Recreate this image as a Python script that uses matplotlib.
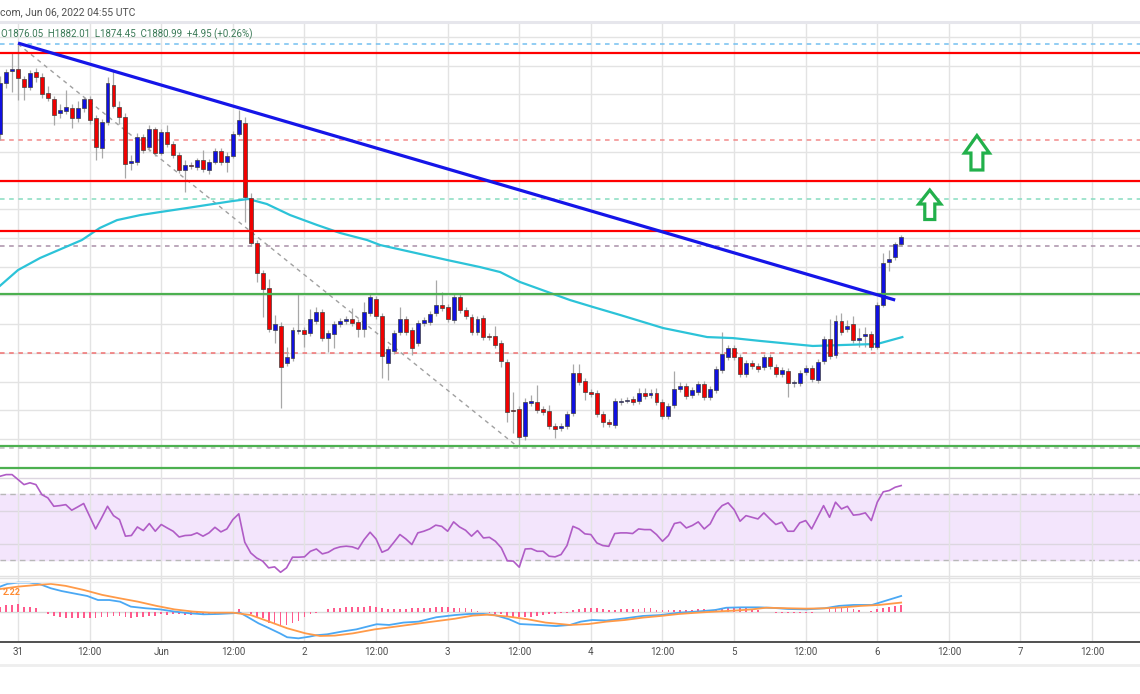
"""ETH/USD 1h chart recreation: candles + trend line + RSI + MACD (TradingView style)."""

import matplotlib

matplotlib.use("Agg")
import matplotlib.pyplot as plt
import numpy as np
from matplotlib.lines import Line2D
from matplotlib.patches import Polygon

plt.rcParams["font.family"] = ["Roboto", "DejaVu Sans"]

W, H = 1140, 694

# ---------------------------------------------------------------------------
# data (hourly candles, first candle = May 30 21:00, x in hours from May 31 00:00)
# ---------------------------------------------------------------------------
opens = [
    1952.4, 1988.0, 1996.3, 1997.7, 1990.8, 1985.2, 1995.6, 1992.2, 1981.0, 1976.8,
    1967.1, 1968.5, 1970.6, 1963.6, 1970.6, 1976.8, 1963.6, 1942.7, 1960.8, 1986.6,
    1971.3, 1964.3, 1932.2, 1932.9, 1950.4, 1943.4, 1955.9, 1939.2, 1953.8, 1945.5,
    1937.8, 1927.4, 1930.9, 1929.5, 1934.3, 1927.4, 1932.9, 1940.6, 1932.9, 1937.1,
    1952.4, 1960.1, 1907.9, 1876.5, 1855.6, 1845.2, 1815.9, 1818.7, 1792.9, 1796.4,
    1815.2, 1815.9, 1813.8, 1822.2, 1828.5, 1810.3, 1813.1, 1820.1, 1822.2, 1823.6,
    1821.5, 1816.6, 1827.8, 1837.5, 1825.7, 1792.9, 1801.3, 1814.5, 1823.6, 1815.9,
    1806.9, 1820.8, 1821.5, 1827.8, 1833.3, 1831.9, 1822.9, 1838.9, 1829.8, 1825.0,
    1814.5, 1824.3, 1811.7, 1811.7, 1806.9, 1793.6, 1759.5, 1760.9, 1742.1, 1765.1,
    1765.8, 1760.9, 1759.5, 1749.0, 1747.6, 1749.0, 1758.1, 1786.0, 1780.4, 1772.7,
    1772.0, 1757.4, 1751.8, 1749.7, 1765.8, 1766.4, 1767.8, 1766.5, 1772.0, 1770.6,
    1772.0, 1765.8, 1756.0, 1763.7, 1774.8, 1776.9, 1770.6, 1772.7, 1778.3, 1769.2,
    1774.1, 1788.0, 1797.1, 1803.4, 1797.1, 1785.3, 1792.9, 1790.8, 1790.1, 1797.1,
    1790.1, 1785.3, 1787.4, 1779.0, 1779.0, 1786.7, 1789.4, 1781.1, 1794.3, 1809.6,
    1798.5, 1822.2, 1816.6, 1820.1, 1808.9, 1811.7, 1813.1, 1804.1, 1833.3, 1863.3,
    1866.8, 1876.05,
]
highs = [
    1992.9, 1997.7, 2008.9, 2015.2, 1992.9, 1997.0, 1998.4, 1994.9, 1985.9, 1978.9,
    1973.4, 1983.1, 1973.4, 1975.4, 1978.2, 1978.9, 1965.7, 1962.9, 1992.2, 1997.0,
    1975.4, 1967.1, 1937.8, 1953.1, 1952.4, 1958.7, 1957.3, 1955.9, 1958.7, 1947.6,
    1939.9, 1934.3, 1932.9, 1935.7, 1941.3, 1935.0, 1942.7, 1942.7, 1939.9, 1954.5,
    1969.2, 1964.3, 1911.4, 1878.6, 1857.7, 1851.4, 1826.4, 1821.5, 1804.1, 1818.0,
    1841.7, 1818.0, 1830.5, 1831.9, 1830.5, 1815.9, 1822.2, 1824.3, 1825.7, 1831.2,
    1823.6, 1835.4, 1841.7, 1839.6, 1827.8, 1804.8, 1815.9, 1831.9, 1825.7, 1818.0,
    1822.9, 1825.0, 1829.2, 1850.7, 1842.4, 1834.0, 1841.0, 1841.0, 1831.9, 1827.1,
    1825.7, 1826.4, 1813.8, 1818.7, 1808.9, 1795.7, 1772.7, 1763.0, 1768.5, 1770.6,
    1777.6, 1763.0, 1763.7, 1751.1, 1751.1, 1759.5, 1792.2, 1792.2, 1782.5, 1774.8,
    1774.1, 1759.5, 1753.9, 1768.5, 1768.5, 1769.2, 1769.9, 1775.5, 1775.5, 1774.8,
    1775.5, 1767.8, 1765.1, 1787.4, 1779.7, 1779.0, 1776.2, 1780.4, 1780.4, 1776.9,
    1790.8, 1814.5, 1805.5, 1805.5, 1799.2, 1795.0, 1795.0, 1792.9, 1799.2, 1799.2,
    1792.2, 1790.1, 1789.4, 1781.1, 1788.0, 1791.5, 1791.5, 1795.7, 1811.7, 1823.6,
    1826.4, 1827.8, 1822.9, 1825.7, 1817.3, 1818.0, 1815.2, 1835.4, 1869.6, 1871.6,
    1877.2, 1882.01,
]
lows = [
    1948.3, 1984.5, 1981.7, 1976.1, 1976.1, 1983.1, 1988.7, 1977.5, 1975.4, 1958.7,
    1963.6, 1966.4, 1956.6, 1960.8, 1967.8, 1959.4, 1934.3, 1935.7, 1958.7, 1970.6,
    1959.4, 1921.8, 1927.4, 1930.9, 1939.2, 1940.6, 1937.1, 1937.8, 1943.4, 1935.7,
    1925.3, 1912.1, 1928.1, 1927.4, 1926.0, 1924.6, 1931.5, 1930.9, 1926.0, 1935.7,
    1951.1, 1891.2, 1874.4, 1849.3, 1825.0, 1814.5, 1806.9, 1761.6, 1790.8, 1794.3,
    1813.1, 1804.1, 1811.7, 1820.1, 1808.3, 1800.6, 1803.4, 1818.0, 1820.1, 1818.7,
    1811.0, 1811.0, 1825.7, 1823.6, 1782.5, 1781.1, 1799.2, 1812.4, 1812.4, 1798.5,
    1804.8, 1818.7, 1819.4, 1825.7, 1829.2, 1821.5, 1820.8, 1827.8, 1823.6, 1812.4,
    1812.4, 1808.9, 1808.9, 1803.4, 1790.1, 1751.8, 1744.1, 1734.4, 1739.3, 1763.0,
    1758.1, 1756.7, 1746.9, 1740.7, 1745.5, 1746.9, 1756.0, 1777.6, 1767.2, 1769.2,
    1755.3, 1748.3, 1748.3, 1747.6, 1763.7, 1765.1, 1763.7, 1764.4, 1767.8, 1768.5,
    1763.7, 1753.9, 1753.9, 1761.6, 1772.7, 1767.8, 1768.5, 1770.6, 1767.2, 1767.2,
    1772.0, 1786.0, 1795.0, 1795.0, 1783.2, 1783.2, 1788.7, 1786.7, 1788.0, 1788.7,
    1783.2, 1783.2, 1769.2, 1776.2, 1776.9, 1784.6, 1779.7, 1779.0, 1792.2, 1795.7,
    1796.4, 1812.4, 1814.5, 1806.9, 1804.1, 1804.1, 1802.0, 1802.7, 1831.9, 1857.0,
    1864.7, 1874.45,
]
closes = [
    1988.0, 1995.6, 1997.7, 1991.5, 1985.2, 1994.9, 1992.2, 1980.3, 1977.5, 1965.7,
    1969.2, 1971.3, 1963.6, 1970.6, 1976.8, 1962.2, 1943.4, 1960.8, 1988.0, 1972.0,
    1964.3, 1931.5, 1933.6, 1950.4, 1941.3, 1955.9, 1939.2, 1953.8, 1945.5, 1937.8,
    1927.4, 1930.9, 1930.2, 1934.3, 1928.1, 1932.9, 1940.6, 1932.9, 1937.1, 1952.4,
    1962.2, 1908.6, 1876.5, 1855.6, 1844.5, 1816.6, 1820.1, 1790.1, 1797.1, 1815.9,
    1815.6, 1813.1, 1823.6, 1828.5, 1810.3, 1813.8, 1820.1, 1822.2, 1823.6, 1820.8,
    1816.6, 1828.5, 1838.9, 1825.7, 1797.8, 1802.7, 1813.8, 1823.6, 1814.5, 1803.4,
    1820.8, 1822.9, 1827.1, 1833.3, 1831.2, 1823.6, 1838.9, 1829.8, 1825.7, 1814.5,
    1823.6, 1811.0, 1811.0, 1805.5, 1794.3, 1758.8, 1759.2, 1741.4, 1765.8, 1766.5,
    1760.2, 1758.8, 1749.0, 1746.9, 1749.0, 1757.4, 1786.0, 1779.7, 1772.7, 1771.3,
    1757.4, 1751.8, 1750.4, 1766.5, 1766.2, 1766.8, 1765.8, 1772.0, 1769.9, 1772.0,
    1765.8, 1756.0, 1763.0, 1774.8, 1776.9, 1769.9, 1774.1, 1778.3, 1769.2, 1774.8,
    1788.7, 1799.2, 1803.4, 1797.1, 1785.3, 1792.9, 1790.8, 1788.7, 1797.1, 1790.8,
    1785.3, 1788.0, 1779.0, 1779.3, 1786.0, 1789.4, 1781.8, 1793.6, 1809.6, 1797.8,
    1822.2, 1814.5, 1818.7, 1808.9, 1810.3, 1813.1, 1804.1, 1833.3, 1862.6, 1865.4,
    1876.04, 1880.99,
]

# 100-period MA (hour, price)
ma_hours = [-3.0, 0.0, 3.7, 10.7, 13.7, 16.6, 20.5, 23.8, 28.3, 32.7, 36.0, 38.6, 41.7, 45.6,
            50.1, 54.0, 58.5, 60.7, 71.9, 77.4, 80.8, 84.1, 89.7, 92.5, 96.4, 100.9, 108.1,
            115.5, 119.8, 124.4, 133.2, 138.3, 144.0, 148.2]
ma_values = [1846.8, 1857.7, 1866.1, 1878.6, 1887.0, 1892.5, 1896.0, 1898.1, 1900.9, 1903.7,
             1905.8, 1907.2, 1903.7, 1896.0, 1889.1, 1883.5, 1878.6, 1875.1, 1864.7, 1859.8,
             1856.3, 1849.4, 1841.0, 1836.8, 1831.9, 1826.4, 1817.3, 1811.0, 1810.3, 1808.3,
             1804.8, 1805.5, 1806.2, 1811.0]

# drawn annotations (hour, price)
trend_hours = [0.0, 147.0]
trend_prices = [2015.8, 1836.8]
fib_diag_hours = [0.0, 83.8]
fib_diag_prices = [2015.2, 1734.4]
red_levels = [2008.9, 1919.7, 1884.9]
green_levels = [1840.7, 1735.1, 1719.8]
dashed_levels = [2015.2, 1948.3, 1907.2, 1874.6, 1799.9, 1733.7]
dashed_colors = ["#74c0f0", "#f28a8a", "#86dcc0", "#a990a8", "#f07070", "#bdbdbd"]

rsi = [
    81.0, 82.0, 82.0, 79.0, 75.9, 77.0, 75.9, 69.8, 67.8, 62.7,
    63.1, 63.7, 60.3, 62.3, 64.4, 56.6, 48.9, 55.6, 62.7, 57.0,
    54.6, 44.5, 44.9, 50.1, 47.9, 52.2, 47.5, 51.6, 49.5, 47.5,
    44.0, 44.9, 45.1, 46.5, 44.5, 46.5, 49.9, 47.1, 48.9, 54.6,
    58.1, 40.8, 34.3, 31.2, 29.3, 25.2, 25.8, 22.5, 25.2, 31.7,
    31.7, 31.9, 35.3, 36.7, 33.7, 34.7, 36.9, 38.0, 38.4, 38.0,
    36.7, 42.4, 46.9, 42.8, 34.7, 36.3, 40.8, 45.5, 42.8, 39.4,
    46.5, 47.5, 48.9, 51.2, 50.5, 47.5, 53.2, 50.1, 48.1, 44.5,
    47.9, 43.4, 43.8, 41.4, 37.3, 29.5, 29.3, 25.6, 36.7, 36.9,
    35.3, 35.3, 32.3, 31.9, 33.3, 38.8, 50.5, 48.9, 45.9, 45.5,
    40.4, 38.8, 38.3, 46.1, 46.5, 46.5, 46.1, 48.9, 48.5, 48.5,
    45.5, 41.4, 44.9, 52.2, 53.0, 49.5, 51.0, 53.2, 48.9, 52.0,
    59.1, 63.1, 64.8, 60.7, 53.6, 57.0, 56.0, 55.0, 58.7, 55.0,
    51.6, 53.0, 47.5, 47.5, 52.6, 54.0, 48.9, 56.0, 63.1, 56.0,
    65.2, 61.1, 62.7, 57.3, 57.7, 58.7, 54.0, 65.2, 71.5, 72.3,
    74.3, 75.3,
]

macd_hist = [
    3.1, 4.0, 4.0, 4.4, 2.7, 2.7, 2.2, 0.4, -0.9, -1.8,
    -2.7, -2.9, -2.9, -2.9, -2.9, -2.9, -3.3, -2.4, -2.7, -1.8,
    -1.8, -2.4, -2.9, -2.4, -2.4, -1.8, -1.8, -1.1, -1.5, -1.1,
    -1.1, -1.5, -1.5, -1.1, -1.1, -1.1, -0.9, -0.9, -0.5, -0.5,
    1.6, 0.4, -0.9, -2.4, -3.3, -5.6, -6.4, -7.3, -6.9, -5.6,
    -4.5, -2.4, -0.9, -0.2, 0.4, 1.6, 2.2, 2.5, 2.7, 2.7,
    3.1, 2.7, 3.5, 3.1, 2.2, 1.6, 1.6, 1.6, 1.6, 2.2,
    2.2, 2.5, 2.5, 2.7, 3.1, 2.7, 2.5, 2.5, 2.2, 1.6,
    0.9, 0.0, -0.5, -0.9, -1.1, -1.8, -2.4, -2.7, -2.4, -2.4,
    -1.8, -1.5, -1.1, -0.9, -0.5, -0.5, 1.3, 1.6, 2.2, 2.5,
    2.2, 1.6, 1.3, 1.3, 1.6, 1.6, 1.6, 1.6, 2.2, 2.2,
    1.3, 1.3, 1.3, 1.3, 1.3, 1.3, 1.3, 1.6, 1.6, 1.3,
    1.6, 2.2, 2.2, 2.2, 2.2, 2.2, 1.6, 1.3, 0.4, 0.0,
    -0.2, -0.5, -0.5, -0.5, -0.5, -0.5, -0.2, 0.0, 0.4, 1.6,
    2.2, 2.2, 2.2, 1.6, 1.3, 0.4, 0.9, 1.6, 2.2, 3.1,
    3.5, 4.0,
]
macd_hours = [-3.0, -1.8, 0.0, 1.9, 3.7, 5.5, 7.3, 9.2, 11.6, 13.4, 15.3, 17.1, 18.9, 21.4,
              23.8, 26.2, 28.7, 31.1, 33.6, 36.0, 37.2, 38.4, 40.3, 42.1, 43.9, 45.1, 47.0,
              48.8, 50.0, 51.8, 54.3, 56.7, 60.1, 62.2, 64.6, 67.1, 70.1, 73.2, 75.6, 78.0,
              79.9, 82.3, 84.1, 87.2, 90.2, 92.5, 94.3, 96.2, 98.6, 101.7, 104.7, 107.7,
              110.8, 113.8, 116.9, 118.7, 121.2, 124.2, 126.6, 129.1, 132.1, 135.2, 137.6,
              140.0, 143.1, 145.5, 148.0]
macd_values = [14.0, 15.5, 16.2, 16.2, 15.3, 13.1, 11.6, 10.4, 8.9, 6.7, 6.7, 5.8, 3.1, 2.2,
               1.6, 0.4, -0.5, -1.1, -0.9, -0.5, -0.2, -2.4, -6.0, -8.7, -11.5, -13.6, -14.2,
               -13.3, -12.5, -12.0, -10.5, -9.3, -6.5, -6.9, -5.6, -5.1, -2.7, -1.5, -0.9,
               -0.9, -1.5, -3.8, -6.4, -6.9, -7.5, -6.9, -5.1, -4.2, -4.5, -3.3, -2.0, -1.5,
               -0.2, 0.4, 1.3, 2.5, 2.7, 2.7, 2.4, 1.8, 1.6, 2.2, 3.5, 4.0, 4.0, 6.4, 8.9]
signal_hours = [-3.0, 0.0, 3.1, 5.5, 8.0, 11.0, 14.1, 17.1, 20.1, 23.2, 26.2, 29.3, 32.3, 36.0,
                39.0, 42.1, 45.1, 48.2, 50.6, 53.1, 56.1, 59.8, 64.0, 68.3, 73.2, 76.2, 78.7,
                82.3, 85.4, 88.4, 92.5, 95.6, 98.6, 101.7, 104.7, 107.7, 110.8, 113.8, 116.9,
                119.9, 123.0, 125.4, 129.1, 132.1, 135.2, 138.2, 141.3, 144.3, 148.0]
signal_values = [12.7, 14.0, 14.9, 15.5, 14.4, 12.2, 9.5, 7.6, 5.8, 3.5, 1.6, 0.4, -0.2, -0.2,
                 -1.5, -5.1, -8.7, -11.5, -12.9, -12.7, -11.5, -9.3, -7.5, -5.6, -3.5, -1.8,
                 -1.3, -2.4, -3.8, -5.6, -6.9, -6.4, -5.1, -4.2, -2.9, -2.0, -0.9, -0.2, 0.4,
                 0.9, 1.6, 2.5, 2.2, 2.0, 2.2, 2.7, 3.5, 4.0, 5.3]

tick_hours = list(range(0, 181, 12))
tick_labels = ["31", "12:00", "Jun", "12:00", "2", "12:00", "3", "12:00",
               "4", "12:00", "5", "12:00", "6", "12:00", "7", "12:00"]

X_LIM = (-3.02, 188.03)
GRID = "#e3e3e3"


def fy(y):
    """pixel row -> figure fraction"""
    return 1 - y / H


def fig_hline(fig, y, color, lw):
    fig.add_artist(Line2D([0, 1], [fy(y), fy(y)], transform=fig.transFigure, color=color, lw=lw))


def setup_pane(ax, ylim):
    ax.set_xlim(*X_LIM)
    ax.set_ylim(*ylim)
    for s in ax.spines.values():
        s.set_visible(False)
    ax.set_yticks([])
    ax.set_xticks(tick_hours)
    ax.tick_params(axis="x", length=0, labelbottom=False)
    ax.grid(axis="x", color=GRID, lw=1.0)
    ax.set_facecolor("none")
    ax.set_axisbelow(True)


def hollow_arrow(ax, cx, hw, sw, tip, base, bottom):
    pts = [(cx, tip), (cx + hw, base), (cx + sw, base), (cx + sw, bottom),
           (cx - sw, bottom), (cx - sw, base), (cx - hw, base)]
    ax.add_patch(Polygon(pts, closed=True, facecolor="white", edgecolor="#22b04b",
                         lw=2.3, joinstyle="miter", zorder=6))


def main():
    fig = plt.figure(figsize=(W / 100, H / 100), dpi=100)
    fig.patch.set_facecolor("white")

    # pane rows in pixels: price 22-471, RSI 471-576, MACD 577-642
    ax = fig.add_axes([0, fy(471), 1, 449 / H])
    ax_rsi = fig.add_axes([0, fy(576), 1, 105 / H])
    ax_macd = fig.add_axes([0, fy(642.3), 1, 65 / H])

    # ---- price pane ----
    setup_pane(ax, (1717.7, 2030.5))
    for p in range(1720, 2030, 20):
        ax.axhline(p, color=GRID, lw=1.0, zorder=0)

    t = np.arange(len(closes)) - 3
    o = np.array(opens)
    c = np.array(closes)
    up = c >= o
    body_col = np.where(up, "#1010e0", "#f00000")
    ax.vlines(t, lows, highs, color="#a8a8a8", lw=0.9, zorder=2)
    ax.bar(t, np.maximum(np.abs(c - o), 0.9), bottom=np.minimum(o, c), width=0.66,
           color=body_col, edgecolor="#404040", linewidth=0.5, zorder=3)

    ax.plot(ma_hours, ma_values, color="#2cc3d8", lw=1.6, zorder=2.5)

    for lvl, col in zip(dashed_levels, dashed_colors):
        ax.axhline(lvl, color=col, lw=1.1, ls=(0, (3, 3)), zorder=1.5)
    for lvl in red_levels:
        ax.axhline(lvl, color="#ff0000", lw=1.6, zorder=4)
    for lvl in green_levels:
        ax.axhline(lvl, color="#4cb050", lw=1.6, zorder=4)

    ax.plot(fib_diag_hours, fib_diag_prices, color="#a0a0a0", lw=1.0, ls=(0, (3, 3)), zorder=1.6)
    ax.plot(trend_hours, trend_prices, color="#1515e8", lw=2.3, zorder=5, solid_capstyle="butt")

    hollow_arrow(ax, 152.8, 1.84, 0.84, 1913.4, 1903.7, 1892.9)
    hollow_arrow(ax, 160.7, 2.09, 1.0, 1951.4, 1939.2, 1927.4)

    # ---- RSI pane ----
    setup_pane(ax_rsi, (20.24, 84.19))
    ax_rsi.axhspan(30, 70, color="#f3e5fc", zorder=0)
    for lvl in (80, 60, 40):
        ax_rsi.axhline(lvl, color="#dcd6e0", lw=1.0, zorder=0.5)
    for lvl in (70, 30):
        ax_rsi.axhline(lvl, color="#b8b8b8", lw=1.0, ls=(0, (4, 3)), zorder=0.5)
    ax_rsi.plot(t, rsi, color="#b05cc6", lw=1.2, zorder=3)

    # ---- MACD pane ----
    setup_pane(ax_macd, (-16.36, 19.09))
    ax_macd.axhline(0, color="#dadada", lw=1.0, zorder=0.5)
    ax_macd.bar(t, macd_hist, width=0.3, color="#ff5a8c", zorder=2)
    ax_macd.plot(macd_hours, macd_values, color="#4aa8f4", lw=1.3, zorder=3)
    ax_macd.plot(signal_hours, signal_values, color="#ff9a48", lw=1.3, zorder=3)
    ax_macd.text(0.002, 0.76, "2.22", transform=ax_macd.transAxes, color="#ff8a30",
                 fontsize=6.5, weight="bold", ha="left", va="center")

    ax_macd.tick_params(axis="x", labelbottom=True, pad=3.5, labelsize=7, labelcolor="#4d4d4d")
    ax_macd.set_xticklabels(tick_labels)

    # ---- pane borders / header ----
    fig_hline(fig, 22, "#e6e6ec", 2.2)
    fig_hline(fig, 576.3, "#e2e2e2", 1.0)
    fig_hline(fig, 577.8, "#e2e2e2", 1.0)
    fig_hline(fig, 582.3, "#ececec", 1.0)
    fig_hline(fig, 642.3, "#505050", 1.4)
    fig_hline(fig, 665, "#eeeeee", 2.0)

    fig.text(0.0, fy(12.7), "com, Jun 06, 2022 04:55 UTC", fontsize=7.5, color="#505050",
             ha="left", va="center")
    fig.text(0.001, fy(34), "O1876.05  H1882.01  L1874.45  C1880.99  +4.95 (+0.26%)",
             fontsize=7, color="#3b7a57", ha="left", va="center", zorder=10)

    fig.savefig("out.png", dpi=100, facecolor="white")
    plt.close(fig)


if __name__ == "__main__":
    main()
